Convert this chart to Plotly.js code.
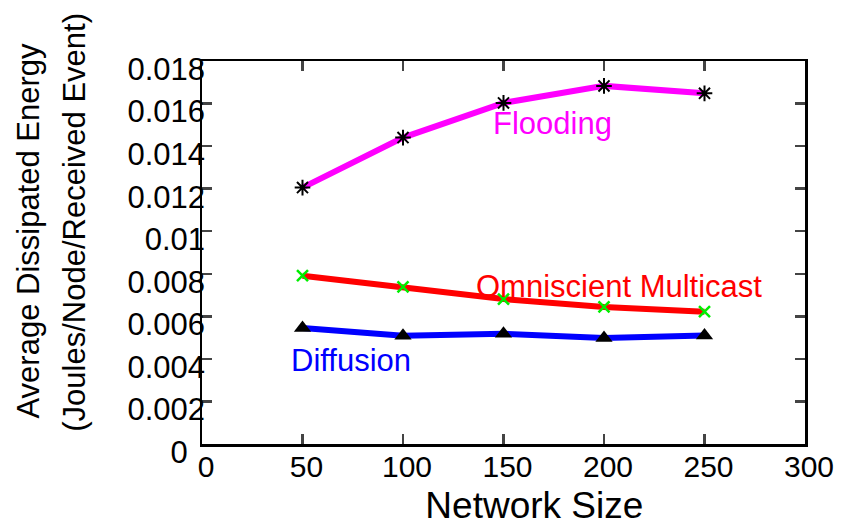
<!DOCTYPE html>
<html>
<head>
<meta charset="utf-8">
<script src="https://cdn.plot.ly/plotly-3.0.1.min.js"></script>
<style>html,body{margin:0;padding:0;background:#fff;}#chart{width:849px;height:526px;}</style>
</head>
<body>
<div id="chart"></div>
<script>
const networkSize = [50, 100, 150, 200, 250];
const flooding = [0.01205, 0.01440, 0.01603, 0.01683, 0.01648];
const omniscient = [0.00791, 0.00739, 0.00681, 0.00644, 0.00622];
const diffusion = [0.00545, 0.00509, 0.00518, 0.00498, 0.00510];
const yTickVals = [0, 0.002, 0.004, 0.006, 0.008, 0.01, 0.012, 0.014, 0.016, 0.018];
const yTickText = ["0&nbsp;&nbsp;", "0.002", "0.004", "0.006", "0.008", "0.01", "0.012", "0.014", "0.016", "0.018"];
const xTickVals = [0, 50, 100, 150, 200, 250, 300];

const font = "Liberation Sans, Arial, sans-serif";
const NB = "&nbsp;";

const traces = [
  {x: networkSize, y: flooding, mode: "lines+markers", name: "Flooding",
   line: {color: "#ff00ff", width: 6},
   marker: {symbol: "asterisk-open", size: 13, color: "#000", line: {color: "#000", width: 2}}},
  {x: networkSize, y: omniscient, mode: "lines+markers", name: "Omniscient Multicast",
   line: {color: "#ff0000", width: 6},
   marker: {symbol: "x-thin-open", size: 11, color: "#00ee00", line: {color: "#00ee00", width: 2.5}}},
  {x: networkSize, y: diffusion, mode: "lines+markers", name: "Diffusion", xaxis: "x2", yaxis: "y2",
   line: {color: "#0000ff", width: 6},
   marker: {symbol: "triangle-up", size: 15, color: "#000"}}
];

const layout = {
  width: 849, height: 526,
  margin: {l: 202, r: 44, t: 61, b: 82},
  paper_bgcolor: "#fff", plot_bgcolor: "#fff",
  showlegend: false,
  font: {family: font, color: "#000"},
  xaxis: {
    range: [0, 300], tickvals: xTickVals, ticks: "inside", ticklen: 10, tickwidth: 2.5,
    showline: true, linewidth: 2.5, linecolor: "#000", mirror: "ticks", showgrid: false, zeroline: false,
    showticklabels: false
  },
  xaxis2: {
    overlaying: "x", anchor: "free", position: 0, side: "bottom",
    range: [0, 300], tickvals: xTickVals, ticks: "", showline: false, showgrid: false, zeroline: false,
    tickfont: {size: 30, family: font}, ticklabelshift: 4, ticklabelstandoff: 2,
    title: {text: NB.repeat(6) + "Network Size", font: {size: 37, family: font}, standoff: 11}
  },
  yaxis: {
    range: [0, 0.018], tickvals: yTickVals, ticks: "inside", ticklen: 10, tickwidth: 2.5,
    showline: true, linewidth: 2.5, linecolor: "#000", mirror: "ticks", showgrid: false, zeroline: false,
    showticklabels: false
  },
  yaxis2: {
    overlaying: "y", anchor: "free", position: 0.005, side: "left",
    range: [0, 0.018], tickvals: yTickVals, ticktext: yTickText, ticks: "",
    showline: false, showgrid: false, zeroline: false,
    tickfont: {size: 31, family: font}, ticklabelshift: 8,
    title: {text: "<span style=\"font-size:31px\">" + NB.repeat(5) + "Average Dissipated Energy</span><br><span style=\"font-size:31px\">" + NB.repeat(7) + "(Joules/Node/Received Event)</span>", font: {size: 35, family: font}, standoff: 30}
  },
  annotations: [
    {x: 0.582, y: 0.838, xref: "paper", yref: "paper", xanchor: "center", yanchor: "middle", text: "Flooding", showarrow: false, font: {size: 31, color: "#ff00ff", family: font}},
    {x: 0.691, y: 0.4125, xref: "paper", yref: "paper", xanchor: "center", yanchor: "middle", text: "Omniscient Multicast", showarrow: false, font: {size: 31, color: "#ff0000", family: font}},
    {x: 0.247, y: 0.218, xref: "paper", yref: "paper", xanchor: "center", yanchor: "middle", text: "Diffusion", showarrow: false, font: {size: 31, color: "#0000ff", family: font}}
  ]
};

Plotly.newPlot("chart", traces, layout, {displayModeBar: false, staticPlot: true});
</script>
</body>
</html>
